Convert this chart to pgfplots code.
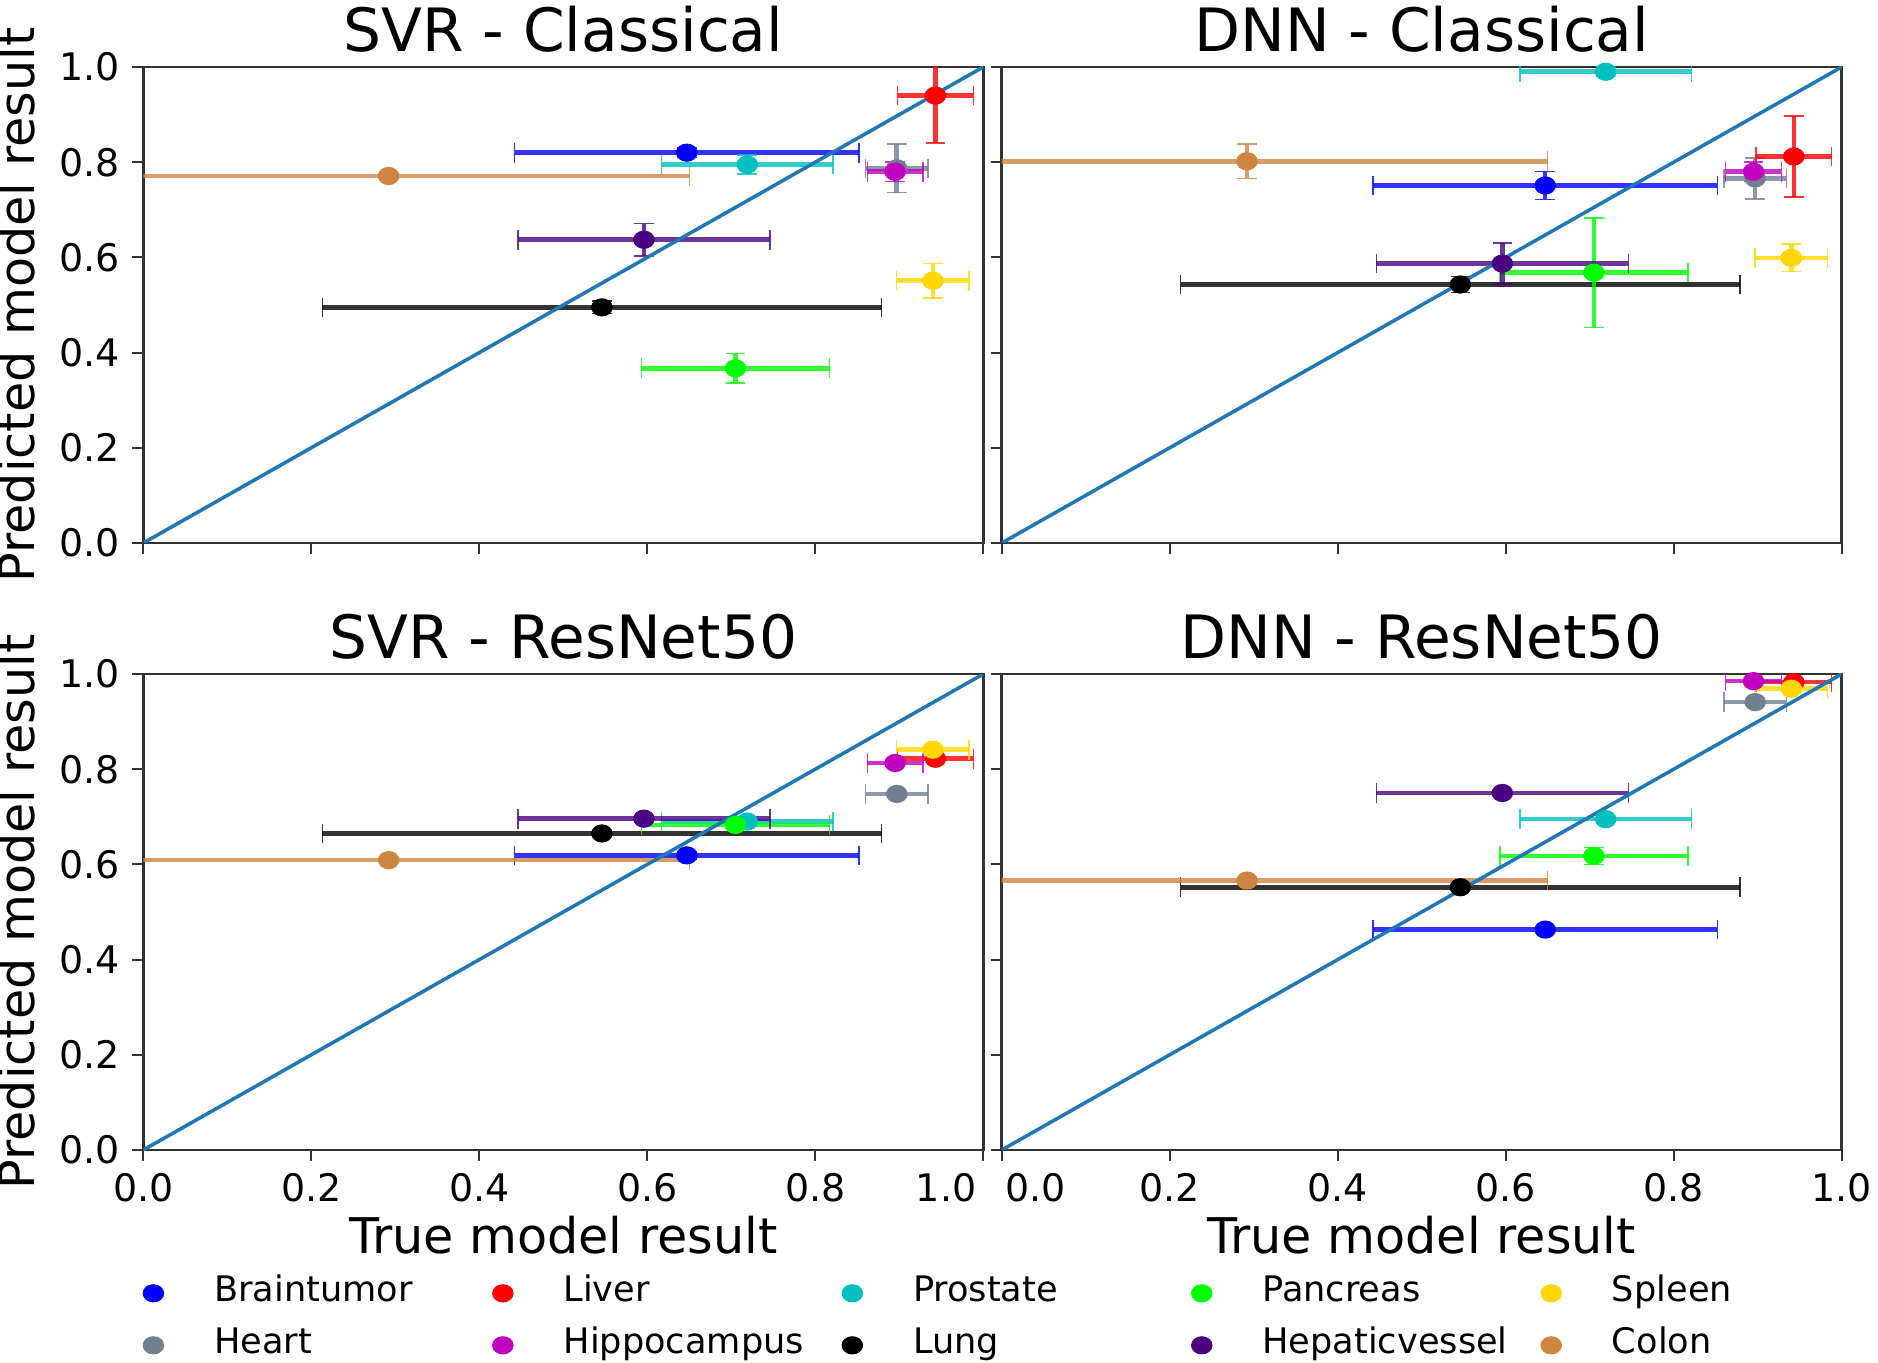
\documentclass[border=0pt]{standalone}
\usepackage{fontspec}
\setmainfont{DejaVu Sans}
\usepackage{pgfplots}
\pgfplotsset{compat=1.18}

\definecolor{cbrain}{RGB}{0,0,255}
\definecolor{cheart}{RGB}{112,128,144}
\definecolor{cliver}{RGB}{255,0,0}
\definecolor{chippo}{RGB}{191,0,191}
\definecolor{cprost}{RGB}{0,191,191}
\definecolor{clung}{RGB}{0,0,0}
\definecolor{cpanc}{RGB}{0,255,0}
\definecolor{chep}{RGB}{75,0,130}
\definecolor{cspleen}{RGB}{255,215,0}
\definecolor{ccolon}{RGB}{205,133,63}
\definecolor{cline}{RGB}{31,119,180}

\pgfplotsset{
  panel/.style={
    width=8.4cm, height=4.76cm, scale only axis,
    xmin=0, xmax=1, ymin=0, ymax=1,
    xtick={0,0.2,0.4,0.6,0.8,1}, ytick={0,0.2,0.4,0.6,0.8,1},
    tick align=outside, tick pos=left,
    major tick length=0.11cm,
    axis line style={black!80, line width=0.8pt},
    every tick/.style={black!80, line width=0.6pt},
    /pgf/number format/assume math mode=true,
    /pgf/number format/.cd, fixed, fixed zerofill, precision=1, /pgfplots/.cd,
    tick label style={font=\fontsize{10.8}{12}\selectfont},
    label style={font=\fontsize{14}{16}\selectfont},
    xlabel style={yshift=3pt},
    title style={font=\fontsize{17}{20}\selectfont, yshift=-5.5pt},
  },
  ebar/.style={
    only marks, mark=*, mark size=2.6pt, forget plot,
    mark options={xscale=1.1, yscale=0.92},
    error bars/x dir=both, error bars/x explicit,
    error bars/y dir=both, error bars/y explicit,
    error bars/error bar style={line width=1.3pt, opacity=0.8},
    error bars/error mark options={rotate=90, mark size=2.8pt},
  },
  legend image code/.code={
    \path (0cm,-0.1cm) (0.3cm,0.1cm);
    \draw[#1, mark size=2.6pt, mark options={xscale=1.1, yscale=0.92}]
      plot coordinates {(0.15cm,0cm)};
  },
}

\begin{document}
\begin{tikzpicture}
\useasboundingbox (0,0) rectangle (18.78,-13.63);

% SVR - Classical
\begin{axis}[panel, at={(1.433cm,-0.67cm)}, anchor=north west,
  title={SVR - Classical}, ylabel={Predicted model result}, xticklabels={}]
\addplot[cbrain, ebar]  coordinates {(0.647,0.820) +- (0.205,0.010)};
\addplot[cheart, ebar]  coordinates {(0.897,0.787) +- (0.037,0.051)};
\addplot[cliver, ebar]  coordinates {(0.943,0.940) +- (0.045,0.100)};
\addplot[chippo, ebar]  coordinates {(0.895,0.780) +- (0.033,0.020)};
\addplot[cprost, ebar]  coordinates {(0.719,0.795) +- (0.102,0.020)};
\addplot[clung, ebar]   coordinates {(0.546,0.495) +- (0.333,0.013)};
\addplot[cpanc, ebar]   coordinates {(0.705,0.367) +- (0.112,0.031)};
\addplot[chep, ebar]    coordinates {(0.596,0.637) +- (0.150,0.034)};
\addplot[cspleen, ebar] coordinates {(0.940,0.551) +- (0.043,0.036)};
\addplot[ccolon, ebar]  coordinates {(0.292,0.771) +- (0.358,0.008)};
\addplot[cline, line width=1pt, forget plot] coordinates {(0,0) (1,1)};
\end{axis}

% DNN - Classical
\begin{axis}[panel, at={(10.017cm,-0.67cm)}, anchor=north west,
  title={DNN - Classical}, xticklabels={}, yticklabels={}]
\addplot[cbrain, ebar]  coordinates {(0.647,0.751) +- (0.205,0.029)};
\addplot[cheart, ebar]  coordinates {(0.897,0.766) +- (0.037,0.043)};
\addplot[cliver, ebar]  coordinates {(0.943,0.812) +- (0.045,0.085)};
\addplot[chippo, ebar]  coordinates {(0.895,0.780) +- (0.033,0.020)};
\addplot[cprost, ebar]  coordinates {(0.719,0.990) +- (0.102,0.010)};
\addplot[clung, ebar]   coordinates {(0.546,0.543) +- (0.333,0.017)};
\addplot[cpanc, ebar]   coordinates {(0.705,0.568) +- (0.112,0.115)};
\addplot[chep, ebar]    coordinates {(0.596,0.587) +- (0.150,0.043)};
\addplot[cspleen, ebar] coordinates {(0.940,0.599) +- (0.043,0.029)};
\addplot[ccolon, ebar]  coordinates {(0.292,0.802) +- (0.358,0.036)};
\addplot[cline, line width=1pt, forget plot] coordinates {(0,0) (1,1)};
\end{axis}

% SVR - ResNet50
\begin{axis}[panel, at={(1.433cm,-6.74cm)}, anchor=north west,
  title={SVR - ResNet50}, ylabel={Predicted model result}, xlabel={True model result},
  xticklabels={0.0,0.2,0.4,0.6,0.8,\makebox[0pt][r]{1.0\hspace{2pt}}},
  legend columns=5,
  legend style={at={(-0.0075,-0.245)}, anchor=north west, draw=none, fill=none,
    inner sep=0pt, font=\fontsize{10}{12}\selectfont, row sep=0pt,
    nodes={text width=2.3cm, align=left, text height=0.25cm, text depth=0.08cm,
      inner ysep=0.095cm},
    /tikz/every odd column/.append style={column sep=0.38cm},
    /tikz/every even column/.append style={column sep=0.36cm}}]
\addplot[cbrain, ebar]  coordinates {(0.647,0.619) +- (0.205,0.008)};
\addplot[cheart, ebar]  coordinates {(0.897,0.748) +- (0.037,0.006)};
\addplot[cliver, ebar]  coordinates {(0.943,0.822) +- (0.045,0.006)};
\addplot[chippo, ebar]  coordinates {(0.895,0.813) +- (0.033,0.006)};
\addplot[cprost, ebar]  coordinates {(0.719,0.690) +- (0.102,0.006)};
\addplot[clung, ebar]   coordinates {(0.546,0.665) +- (0.333,0.006)};
\addplot[cpanc, ebar]   coordinates {(0.705,0.683) +- (0.112,0.008)};
\addplot[chep, ebar]    coordinates {(0.596,0.696) +- (0.150,0.005)};
\addplot[cspleen, ebar] coordinates {(0.940,0.841) +- (0.043,0.006)};
\addplot[ccolon, ebar]  coordinates {(0.292,0.609) +- (0.358,0.005)};
\addplot[cline, line width=1pt, forget plot] coordinates {(0,0) (1,1)};
\addlegendimage{only marks, mark=*, cbrain}  \addlegendentry{Braintumor}
\addlegendimage{only marks, mark=*, cliver}  \addlegendentry{Liver}
\addlegendimage{only marks, mark=*, cprost}  \addlegendentry{Prostate}
\addlegendimage{only marks, mark=*, cpanc}   \addlegendentry{Pancreas}
\addlegendimage{only marks, mark=*, cspleen} \addlegendentry{Spleen}
\addlegendimage{only marks, mark=*, cheart}  \addlegendentry{Heart}
\addlegendimage{only marks, mark=*, chippo}  \addlegendentry{Hippocampus}
\addlegendimage{only marks, mark=*, clung}   \addlegendentry{Lung}
\addlegendimage{only marks, mark=*, chep}    \addlegendentry{Hepaticvessel}
\addlegendimage{only marks, mark=*, ccolon}  \addlegendentry{Colon}
\end{axis}

% DNN - ResNet50
\begin{axis}[panel, at={(10.017cm,-6.74cm)}, anchor=north west,
  title={DNN - ResNet50}, xlabel={True model result}, yticklabels={},
  xticklabels={\makebox[0pt][l]{\hspace{1pt}0.0},0.2,0.4,0.6,0.8,1.0}]
\addplot[cbrain, ebar]  coordinates {(0.647,0.463) +- (0.205,0.006)};
\addplot[cheart, ebar]  coordinates {(0.897,0.941) +- (0.037,0.006)};
\addplot[cliver, ebar]  coordinates {(0.943,0.983) +- (0.045,0.006)};
\addplot[chippo, ebar]  coordinates {(0.895,0.985) +- (0.033,0.005)};
\addplot[cprost, ebar]  coordinates {(0.719,0.695) +- (0.102,0.006)};
\addplot[clung, ebar]   coordinates {(0.546,0.552) +- (0.333,0.006)};
\addplot[cpanc, ebar]   coordinates {(0.705,0.618) +- (0.112,0.018)};
\addplot[chep, ebar]    coordinates {(0.596,0.750) +- (0.150,0.005)};
\addplot[cspleen, ebar] coordinates {(0.940,0.969) +- (0.043,0.006)};
\addplot[ccolon, ebar]  coordinates {(0.292,0.566) +- (0.358,0.005)};
\addplot[cline, line width=1pt, forget plot] coordinates {(0,0) (1,1)};
\end{axis}
\end{tikzpicture}
\end{document}
